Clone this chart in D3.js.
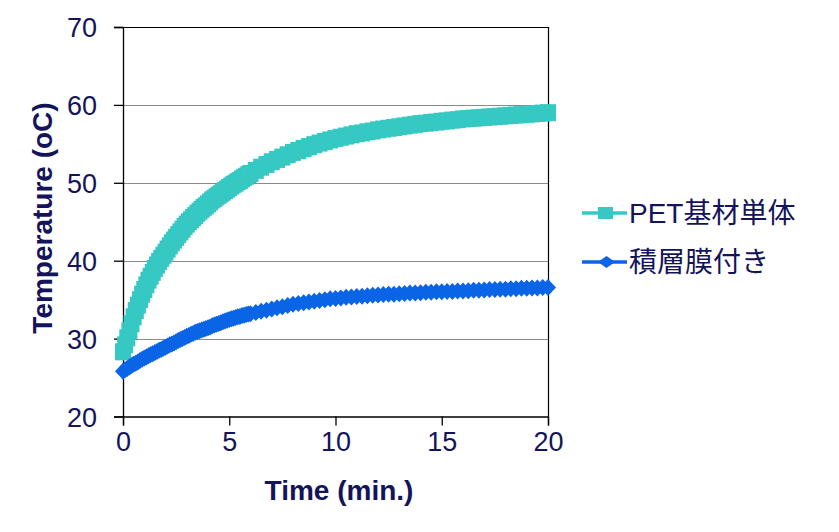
<!DOCTYPE html>
<html><head><meta charset="utf-8">
<script src="https://cdn.jsdelivr.net/npm/d3@7"></script>
<style>body{margin:0;background:#fff}svg{display:block}text{font-family:"Liberation Sans",Arial,"Noto Sans CJK JP",sans-serif;fill:#14145a}</style>
</head><body><svg id="c" width="839" height="532"></svg>
<script>
// sample times (min): every 0.1 min for the first 6 minutes, then every 0.25 min
const times = d3.range(0, 5.95, 0.1).concat(d3.range(6, 20.001, 0.25)).map(t => +t.toFixed(2));
const petValues = [28.3,29.2,30.1,31.0,31.9,32.8,33.6,34.3,35.0,35.7,36.3,36.9,37.5,38.0,38.5,39.0,39.45,39.9,40.3,40.7,41.1,41.5,41.9,42.3,42.65,43.0,43.35,43.7,44.05,44.4,
  44.7,45.0,45.25,45.55,45.8,46.1,46.35,46.6,46.85,47.05,47.3,47.55,47.8,48.0,48.2,48.4,48.6,48.8,49.0,49.2,49.4,49.6,49.8,49.95,50.15,50.3,50.5,50.7,50.85,51.05,
  51.2,51.6,52.0,52.35,52.7,53.0,53.3,53.6,53.9,54.15,54.4,54.65,54.9,55.1,55.3,55.5,55.7,55.85,56.0,56.15,56.3,56.4,56.55,56.65,56.8,56.9,57.0,57.1,57.2,57.3,57.4,57.5,57.6,57.65,57.75,57.8,57.9,57.95,58.05,58.1,58.2,58.25,58.3,58.35,58.4,58.45,58.5,58.55,58.6,58.65,58.7,58.75,58.8,58.85,58.9,58.95,59.0];
const filmValues = [25.8,26.0,26.15,26.35,26.55,26.7,26.85,27.0,27.2,27.35,27.5,27.65,27.8,27.95,28.05,28.2,28.35,28.5,28.6,28.75,28.9,29.05,29.2,29.3,29.45,29.6,29.75,29.9,30.0,30.15,
  30.3,30.4,30.55,30.65,30.8,30.9,31.0,31.1,31.2,31.3,31.4,31.5,31.65,31.75,31.85,31.95,32.05,32.15,32.25,32.35,32.45,32.55,32.6,32.7,32.8,32.85,32.95,33.0,33.1,33.15,
  33.2,33.35,33.5,33.65,33.8,33.95,34.1,34.25,34.4,34.5,34.6,34.7,34.8,34.9,35.0,35.1,35.15,35.2,35.3,35.35,35.4,35.45,35.5,35.55,35.6,35.65,35.7,35.7,35.75,35.8,35.85,35.85,35.9,35.95,35.95,36.0,36.0,36.05,36.05,36.1,36.1,36.15,36.2,36.2,36.25,36.3,36.3,36.35,36.35,36.4,36.4,36.45,36.45,36.5,36.5,36.55,36.55];
const seriesNames = ["PET基材単体", "積層膜付き"];
const xTicks = [0, 5, 10, 15, 20];
const yTicks = [20, 30, 40, 50, 60, 70];

const svg = d3.select("#c");
const L = 123, R = 548, T = 27, B = 416.5;
const x = d3.scaleLinear().domain([0, 20]).range([L, R]);
const y = d3.scaleLinear().domain([20, 70]).range([B, T]);

svg.append("g").selectAll("line").data(yTicks.filter(v => v > 20 && v < 70)).join("line")
  .attr("x1", L).attr("x2", R).attr("y1", d => Math.round(y(d)) + 0.5).attr("y2", d => Math.round(y(d)) + 0.5)
  .attr("stroke", "#8a8a8a").attr("stroke-width", 1.2);
svg.append("line").attr("x1", L).attr("x2", R + 0.5).attr("y1", T + 0.5).attr("y2", T + 0.5).attr("stroke", "#000").attr("stroke-width", 1.2);
svg.append("line").attr("x1", R + 0.5).attr("x2", R + 0.5).attr("y1", T).attr("y2", B).attr("stroke", "#000").attr("stroke-width", 1.2);

const xAxis = svg.append("g").attr("transform", `translate(0,${B})`)
  .call(d3.axisBottom(x).tickValues(xTicks).tickSize(9).tickPadding(6).tickFormat(d3.format("d")));
const yAxis = svg.append("g").attr("transform", `translate(${L},0)`)
  .call(d3.axisLeft(y).tickValues(yTicks).tickSize(9).tickPadding(17).tickFormat(d3.format("d")));
[xAxis, yAxis].forEach(a => {
  a.selectAll("path,line").attr("stroke", "#000").attr("stroke-width", 1.3);
  a.selectAll("text").style("font-size", "27px").style("fill", "#14145a").attr("font-family", null);
});
xAxis.selectAll("text").attr("dy", "0.71em");
yAxis.selectAll("text").attr("dy", "0.36em");

const colors = ["#36c8c2", "#0a64e6"];
const data = [petValues, filmValues];
const line = d3.line().x((d, i) => x(times[i])).y(d => y(d));
const dm = (cx, cy) => `M${cx - 8},${cy}L${cx},${cy - 8.5}L${cx + 8},${cy}L${cx},${cy + 8.5}Z`;

data.forEach((vals, s) => {
  const g = svg.append("g");
  g.append("path").attr("d", line(vals)).attr("fill", "none").attr("stroke", colors[s]).attr("stroke-width", 3);
  if (s === 0) {
    g.selectAll("rect").data(vals).join("rect")
      .attr("x", (d, i) => x(times[i]) - 8).attr("y", d => y(d) - 8.5)
      .attr("width", 16).attr("height", 17).attr("fill", colors[s]);
  } else {
    g.selectAll("path.m").data(vals).join("path").attr("class", "m")
      .attr("d", (d, i) => dm(x(times[i]), y(d))).attr("fill", colors[s]);
  }
});

svg.append("text").attr("x", 339).attr("y", 500).attr("text-anchor", "middle")
  .style("font-size", "28px").style("font-weight", "bold").text("Time (min.)");
svg.append("text").attr("transform", "translate(52,218) rotate(-90)").attr("text-anchor", "middle")
  .style("font-size", "28px").style("font-weight", "bold").text("Temperature (oC)");

const legY = [213, 262];
seriesNames.forEach((name, s) => {
  const g = svg.append("g");
  g.append("line").attr("x1", 582).attr("x2", 627).attr("y1", legY[s]).attr("y2", legY[s])
    .attr("stroke", colors[s]).attr("stroke-width", 3.5);
  if (s === 0) g.append("rect").attr("x", 598).attr("y", legY[s] - 6).attr("width", 15).attr("height", 12).attr("fill", colors[s]);
  else g.append("path").attr("d", `M598,${legY[s]}L606.5,${legY[s] - 6}L615,${legY[s]}L606.5,${legY[s] + 6}Z`).attr("fill", colors[s]);
  g.append("text").attr("x", 629).attr("y", legY[s]).attr("dy", "0.36em")
    .style("font-size", "28px").text(name);
});
</script></body></html>
